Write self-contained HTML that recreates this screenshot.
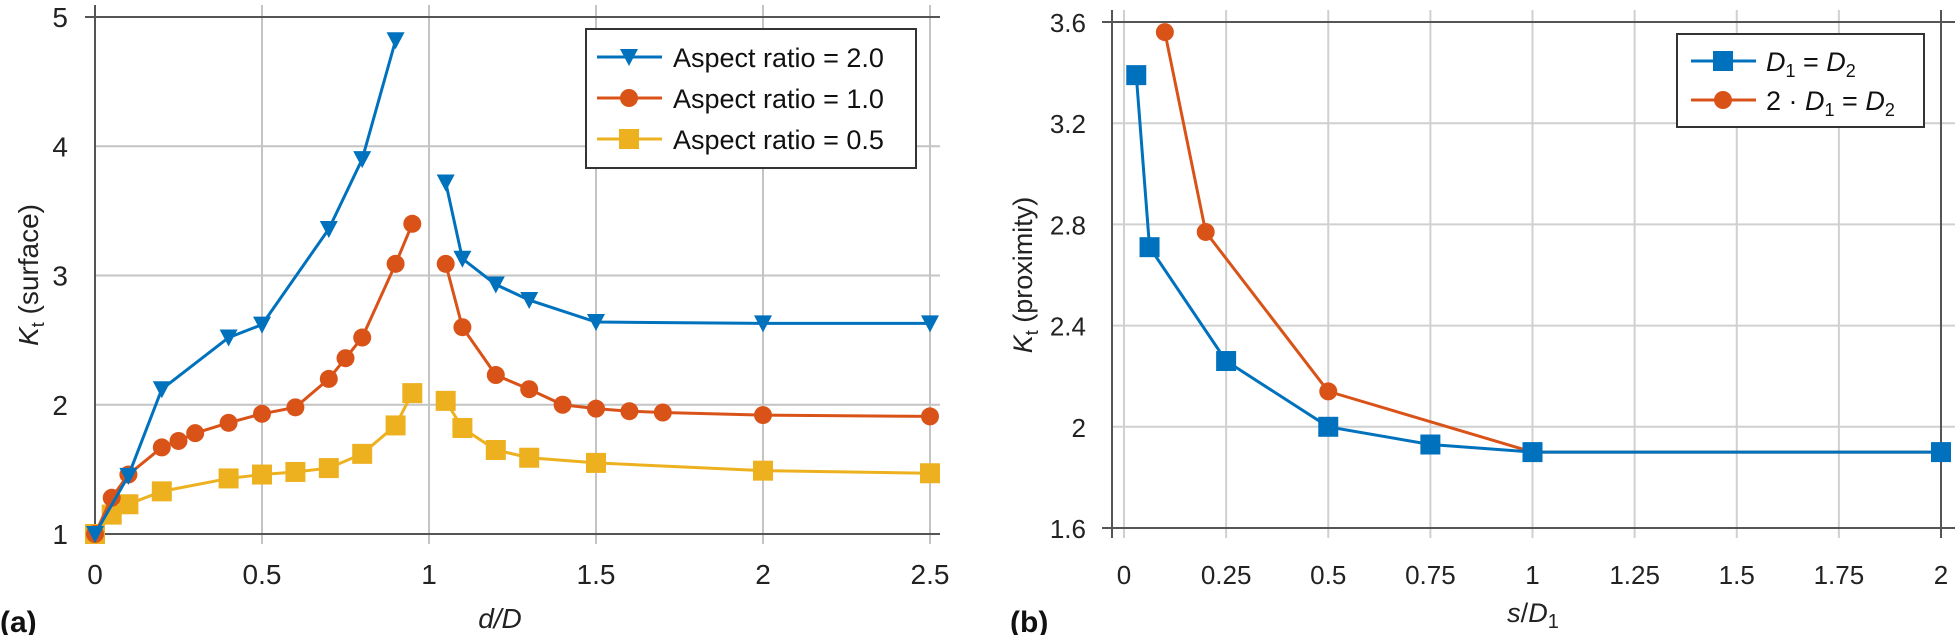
<!DOCTYPE html>
<html><head><meta charset="utf-8">
<style>
html,body{margin:0;padding:0;background:#fff;}
svg{display:block;font-family:"Liberation Sans",Arial,sans-serif;}
</style></head>
<body>
<svg id="fig" width="1960" height="635" viewBox="0 0 1960 635"></svg>
<script>
// ---- Chart (a) data ----
const aXTicks = [0, 0.5, 1, 1.5, 2, 2.5];
const aXTickLabels = ["0", "0.5", "1", "1.5", "2", "2.5"];
const aYTicks = [1, 2, 3, 4, 5];
const aYTickLabels = ["1", "2", "3", "4", "5"];
const aBlueLeftX = [0, 0.1, 0.2, 0.4, 0.5, 0.7, 0.8, 0.9];
const aBlueLeftY = [1, 1.45, 2.12, 2.52, 2.62, 3.36, 3.9, 4.82];
const aBlueRightX = [1.05, 1.1, 1.2, 1.3, 1.5, 2, 2.5];
const aBlueRightY = [3.72, 3.13, 2.93, 2.81, 2.64, 2.63, 2.63];
const aOrangeLeftX = [0, 0.05, 0.1, 0.2, 0.25, 0.3, 0.4, 0.5, 0.6, 0.7, 0.75, 0.8, 0.9, 0.95];
const aOrangeLeftY = [1, 1.28, 1.46, 1.67, 1.72, 1.78, 1.86, 1.93, 1.98, 2.2, 2.36, 2.52, 3.09, 3.4];
const aOrangeRightX = [1.05, 1.1, 1.2, 1.3, 1.4, 1.5, 1.6, 1.7, 2, 2.5];
const aOrangeRightY = [3.09, 2.6, 2.23, 2.12, 2.0, 1.97, 1.95, 1.94, 1.92, 1.91];
const aYellowLeftX = [0, 0.05, 0.1, 0.2, 0.4, 0.5, 0.6, 0.7, 0.8, 0.9, 0.95];
const aYellowLeftY = [1, 1.15, 1.23, 1.33, 1.43, 1.46, 1.48, 1.51, 1.62, 1.84, 2.09];
const aYellowRightX = [1.05, 1.1, 1.2, 1.3, 1.5, 2, 2.5];
const aYellowRightY = [2.03, 1.82, 1.65, 1.59, 1.55, 1.49, 1.47];
const aLegendLabels = ["Aspect ratio = 2.0", "Aspect ratio = 1.0", "Aspect ratio = 0.5"];

// ---- Chart (b) data ----
const bXTicks = [0, 0.25, 0.5, 0.75, 1, 1.25, 1.5, 1.75, 2];
const bXTickLabels = ["0", "0.25", "0.5", "0.75", "1", "1.25", "1.5", "1.75", "2"];
const bYTicks = [1.6, 2, 2.4, 2.8, 3.2, 3.6];
const bYTickLabels = ["1.6", "2", "2.4", "2.8", "3.2", "3.6"];
const bBlueX = [0.03, 0.0625, 0.25, 0.5, 0.75, 1, 2];
const bBlueY = [3.39, 2.71, 2.26, 2.0, 1.93, 1.9, 1.9];
const bOrangeX = [0.1, 0.2, 0.5, 1, 2];
const bOrangeY = [3.56, 2.77, 2.14, 1.9, 1.9];

const NS = "http://www.w3.org/2000/svg";
const svg = document.getElementById("fig");
const BLUE = "#0072BD", ORANGE = "#D95319", YELLOW = "#EDB120";
function mk(tag, attrs, parent) {
  const e = document.createElementNS(NS, tag);
  for (const k in attrs) e.setAttribute(k, attrs[k]);
  (parent || svg).appendChild(e);
  return e;
}
function txt(s, attrs, parent) { const t = mk("text", attrs, parent); t.textContent = s; return t; }

function marker(g, type, x, y, color) {
  let m;
  if (type === "tri") m = mk("polygon", {points: `${x-9},${y-8} ${x+9},${y-8} ${x},${y+9}`, fill: color}, g);
  else if (type === "circ") m = mk("circle", {cx: x, cy: y, r: 9, fill: color}, g);
  else m = mk("rect", {x: x-10, y: y-10, width: 20, height: 20, fill: color}, g);
  
  
}
function series(g, xs, ys, sx, sy, color, type, name) {
  const s = mk("g", {}, g);
  
  
  const pts = xs.map((v, i) => sx(v) + "," + sy(ys[i])).join(" ");
  const l = mk("polyline", {points: pts, fill: "none", stroke: color, "stroke-width": 3}, s);
  
  
  xs.forEach((v, i) => marker(s, type, sx(v), sy(ys[i]), color));
}

// ===== Chart (a) =====
const A = {l: 95, r: 930, t: 17, b: 534, x0: 0, x1: 2.5, y0: 1, y1: 5};
const ax = v => A.l + (v - A.x0) / (A.x1 - A.x0) * (A.r - A.l);
const ay = v => A.b - (v - A.y0) / (A.y1 - A.y0) * (A.b - A.t);
const ga = mk("g", {});


aXTicks.forEach((v, i) => {
  const g = mk("line", {x1: ax(v), x2: ax(v), y1: A.t - 12, y2: A.b + 10, stroke: "#c4c4c4", "stroke-width": 2}, ga);
  
  
  const t = txt(aXTickLabels[i], {x: ax(v), y: 584, "text-anchor": "middle", "font-size": 28, fill: "#222"}, ga);
  
  
});
aYTicks.forEach((v, i) => {
  const g = mk("line", {x1: A.l, x2: A.r + 10, y1: ay(v), y2: ay(v), stroke: "#c4c4c4", "stroke-width": 2}, ga);
  
  
  const t = txt(aYTickLabels[i], {x: 68, y: ay(v) + 10, "text-anchor": "end", "font-size": 28, fill: "#222"}, ga);
  
  
});
mk("line", {x1: A.l - 10, x2: A.r + 10, y1: A.t, y2: A.t, stroke: "#555", "stroke-width": 2}, ga);
mk("line", {x1: A.l - 10, x2: A.r + 10, y1: A.b, y2: A.b, stroke: "#555", "stroke-width": 2}, ga);
mk("line", {x1: A.l, x2: A.l, y1: A.t - 12, y2: A.b + 10, stroke: "#555", "stroke-width": 2}, ga);
series(ga, aYellowLeftX, aYellowLeftY, ax, ay, YELLOW, "sq", "series-aspect-0.5-left");
series(ga, aYellowRightX, aYellowRightY, ax, ay, YELLOW, "sq", "series-aspect-0.5-right");
series(ga, aOrangeLeftX, aOrangeLeftY, ax, ay, ORANGE, "circ", "series-aspect-1.0-left");
series(ga, aOrangeRightX, aOrangeRightY, ax, ay, ORANGE, "circ", "series-aspect-1.0-right");
series(ga, aBlueLeftX, aBlueLeftY, ax, ay, BLUE, "tri", "series-aspect-2.0-left");
series(ga, aBlueRightX, aBlueRightY, ax, ay, BLUE, "tri", "series-aspect-2.0-right");
// legend a
const la = mk("g", {}, ga);


mk("rect", {x: 586, y: 29, width: 330, height: 139, fill: "#fff", stroke: "#333", "stroke-width": 2}, la);
const aCols = [BLUE, ORANGE, YELLOW], aTypes = ["tri", "circ", "sq"];
aLegendLabels.forEach((s, i) => {
  const y = 57 + i * 41;
  const e = mk("g", {}, la);
  
  
  mk("line", {x1: 597, x2: 662, y1: y, y2: y, stroke: aCols[i], "stroke-width": 3}, e);
  marker(e, aTypes[i], 629, y, aCols[i]);
  txt(s, {x: 673, y: y + 10, "font-size": 27, fill: "#111"}, e);
});
const ayt = txt("", {transform: "translate(38,275) rotate(-90)", "text-anchor": "middle", "font-size": 28, fill: "#222"}, ga);


ayt.innerHTML = '<tspan font-style="italic">K</tspan><tspan font-size="18" dy="6">t</tspan><tspan dy="-6"> (surface)</tspan>';
const axt = txt("", {x: 500, y: 628, "text-anchor": "middle", "font-size": 28, "font-style": "italic", fill: "#222"}, ga);
axt.textContent = "d/D";


const pa = txt("(a)", {x: 0, y: 632, "font-size": 30, "font-weight": "bold", fill: "#111"}, ga);



// ===== Chart (b) =====
const B = {l: 1112, r: 1941, t: 22, b: 528, x0: -0.0294, x1: 2, y0: 1.6, y1: 3.6};
const bx = v => B.l + (v - B.x0) / (B.x1 - B.x0) * (B.r - B.l);
const by = v => B.b - (v - B.y0) / (B.y1 - B.y0) * (B.b - B.t);
const gb = mk("g", {});


bXTicks.forEach((v, i) => {
  const g = mk("line", {x1: bx(v), x2: bx(v), y1: B.t - 12, y2: B.b + 10, stroke: "#d0d0d0", "stroke-width": 2}, gb);
  
  
  const t = txt(bXTickLabels[i], {x: bx(v), y: 584, "text-anchor": "middle", "font-size": 26, fill: "#222"}, gb);
  
  
});
bYTicks.forEach((v, i) => {
  const g = mk("line", {x1: B.l, x2: B.r + 14, y1: by(v), y2: by(v), stroke: "#d0d0d0", "stroke-width": 2}, gb);
  
  
  const t = txt(bYTickLabels[i], {x: 1086, y: by(v) + 10, "text-anchor": "end", "font-size": 26, fill: "#222"}, gb);
  
  
});
mk("line", {x1: B.l - 10, x2: B.r + 14, y1: B.t, y2: B.t, stroke: "#555", "stroke-width": 2}, gb);
mk("line", {x1: B.l - 10, x2: B.r + 14, y1: B.b, y2: B.b, stroke: "#555", "stroke-width": 2}, gb);
mk("line", {x1: B.l, x2: B.l, y1: B.t - 12, y2: B.b + 10, stroke: "#555", "stroke-width": 2}, gb);
mk("line", {x1: B.r, x2: B.r, y1: B.t - 12, y2: B.b + 10, stroke: "#555", "stroke-width": 2}, gb);
series(gb, bOrangeX, bOrangeY, bx, by, ORANGE, "circ", "series-2d1-eq-d2");
series(gb, bBlueX, bBlueY, bx, by, BLUE, "sq", "series-d1-eq-d2");
const lb = mk("g", {}, gb);


mk("rect", {x: 1677, y: 34, width: 247, height: 93, fill: "#fff", stroke: "#333", "stroke-width": 2}, lb);
const e1 = mk("g", {}, lb);


mk("line", {x1: 1691, x2: 1756, y1: 61, y2: 61, stroke: BLUE, "stroke-width": 3}, e1);
marker(e1, "sq", 1723, 61, BLUE);
const t1 = txt("", {x: 1766, y: 71, "font-size": 27, fill: "#111"}, e1);
t1.innerHTML = '<tspan font-style="italic">D</tspan><tspan font-size="18" dy="6">1</tspan><tspan dy="-6"> =  </tspan><tspan font-style="italic">D</tspan><tspan font-size="18" dy="6">2</tspan>';
const e2 = mk("g", {}, lb);


mk("line", {x1: 1691, x2: 1756, y1: 100, y2: 100, stroke: ORANGE, "stroke-width": 3}, e2);
marker(e2, "circ", 1723, 100, ORANGE);
const t2 = txt("", {x: 1766, y: 110, "font-size": 27, fill: "#111"}, e2);
t2.innerHTML = '<tspan>2 · </tspan><tspan font-style="italic">D</tspan><tspan font-size="18" dy="6">1</tspan><tspan dy="-6"> =  </tspan><tspan font-style="italic">D</tspan><tspan font-size="18" dy="6">2</tspan>';
const byt = txt("", {transform: "translate(1032,275) rotate(-90)", "text-anchor": "middle", "font-size": 27, fill: "#222"}, gb);


byt.innerHTML = '<tspan font-style="italic">K</tspan><tspan font-size="18" dy="6">t</tspan><tspan dy="-6"> (proximity)</tspan>';
const bxt = txt("", {x: 1533, y: 622, "text-anchor": "middle", "font-size": 27, fill: "#222"}, gb);


bxt.innerHTML = '<tspan font-style="italic">s</tspan><tspan>/</tspan><tspan font-style="italic">D</tspan><tspan font-size="20" dy="6">1</tspan>';
const pb = txt("(b)", {x: 1010, y: 632, "font-size": 30, "font-weight": "bold", fill: "#111"}, gb);


</script>
</body></html>
